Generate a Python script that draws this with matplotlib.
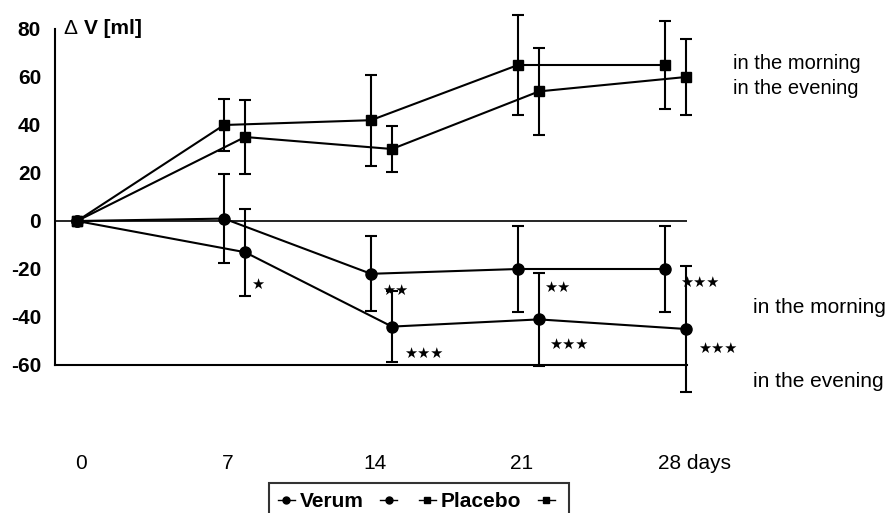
import numpy as np
import matplotlib.pyplot as plt
from matplotlib.lines import Line2D
from matplotlib.transforms import ScaledTranslation

plt.rcParams['font.family'] = ['Liberation Sans', 'DejaVu Sans']
plt.rcParams['axes.unicode_minus'] = False

# visit days and tick labels
days = np.array([0, 7, 14, 21, 28])
day_labels = ['0', '7', '14', '21', '28 days']

# change in volume (ml), mean and error, morning / evening
placebo_morning = [0, 40, 42, 65, 65]
placebo_morning_err = [0, 11, 19, 21, 18.5]
placebo_evening = [0, 35, 30, 54, 60]
placebo_evening_err = [0, 15.5, 9.6, 18, 16]
verum_morning = [0, 1, -22, -20, -20]
verum_morning_err = [0, 18.4, 15.7, 18, 18]
verum_evening = [0, -13, -44, -41, -45]
verum_evening_err = [0, 18.2, 14.8, 19.5, 26.4]

# significance marks and where they sit (day, ml)
sig_marks = [1, 2, 3, 2, 3, 3, 3]
sig_x = [8.6, 15.15, 16.5, 22.85, 23.4, 29.65, 30.5]
sig_y = [-26.5, -29, -55, -27.5, -51.5, -25.5, -53]

# evening readings are drawn one day to the right
days_eve = np.where(days > 0, days + 1, days)

fig = plt.figure(figsize=(8.91, 5.13), dpi=100)
ax = fig.add_axes([55 / 891, 1 - 365 / 513, 632 / 891, 336 / 513])

lw = 1.5


def series(x, y, err, marker, ms):
    x = np.asarray(x)
    y = np.asarray(y)
    err = np.asarray(err)
    ax.plot(x, y, color='black', lw=lw, marker=marker, ms=ms, clip_on=False, zorder=3)
    ax.errorbar(x[1:], y[1:], yerr=err[1:], fmt='none', ecolor='black',
                elinewidth=lw, capsize=4.5, capthick=lw, clip_on=False, zorder=2)


series(days, placebo_morning, placebo_morning_err, 's', 7)
series(days_eve, placebo_evening, placebo_evening_err, 's', 7)
series(days, verum_morning, verum_morning_err, 'o', 8)
series(days_eve, verum_evening, verum_evening_err, 'o', 8)

ax.axhline(0, color='black', lw=1.2, zorder=1)

for n, x, y in zip(sig_marks, sig_x, sig_y):
    ax.text(x, y, '\u2605' * n, ha='center', va='center', fontsize=10.5,
            family='DejaVu Sans', color='black')

# time of day labels
ax.text(31.25, 65.5, 'in the morning', fontsize=14.5, va='center', ha='left')
ax.text(31.25, 55, 'in the evening', fontsize=14.5, va='center', ha='left')
ax.text(32.2, -36, 'in the morning', fontsize=15, va='center', ha='left')
ax.text(32.2, -67, 'in the evening', fontsize=15, va='center', ha='left')

# axis title: thin delta, bold quantity
ax.text(0.013, 1.0, '\u0394', transform=ax.transAxes, fontsize=15,
        ha='left', va='center')
ax.text(0.046, 1.0, 'V [ml]', transform=ax.transAxes, fontsize=15,
        fontweight='bold', ha='left', va='center')

ax.set_xlim(-1.05, 29.05)
ax.set_ylim(-60, 80)
ax.set_yticks(np.arange(-60, 81, 20))
ax.set_xticks(days)
ax.set_xticklabels(day_labels)
ax.tick_params(axis='y', length=0, pad=10, labelsize=15)
ax.tick_params(axis='x', length=0, pad=64, labelsize=15)
for lab in ax.get_yticklabels():
    lab.set_fontweight('bold')
xlabs = ax.get_xticklabels()
for lab in xlabs[:-1]:
    lab.set_transform(lab.get_transform() + ScaledTranslation(4 / 100, 0, fig.dpi_scale_trans))
xlabs[-1].set_horizontalalignment('left')
xlabs[-1].set_transform(xlabs[-1].get_transform() + ScaledTranslation(-7 / 100, 0, fig.dpi_scale_trans))

for side in ['top', 'right']:
    ax.spines[side].set_visible(False)
ax.spines['left'].set_linewidth(lw)
ax.spines['bottom'].set_linewidth(lw)

handles = [
    Line2D([], [], color='black', lw=1, marker='o', ms=5),
    Line2D([], [], color='black', lw=1, marker='o', ms=5),
    Line2D([], [], color='black', lw=1, marker='s', ms=4),
    Line2D([], [], color='black', lw=1, marker='s', ms=4),
]
leg = fig.legend(handles, ['Verum', '', 'Placebo', ''], ncol=4,
                 loc='upper center', bbox_to_anchor=(419 / 891, 1 - 483 / 513),
                 borderaxespad=0, frameon=True, fancybox=False, edgecolor='black',
                 prop={'size': 15, 'weight': 'bold'},
                 handlelength=0.8, handletextpad=0.25, columnspacing=0.8,
                 borderpad=0.45)
leg.get_frame().set_linewidth(lw)

fig.savefig('out.png', dpi=100)
